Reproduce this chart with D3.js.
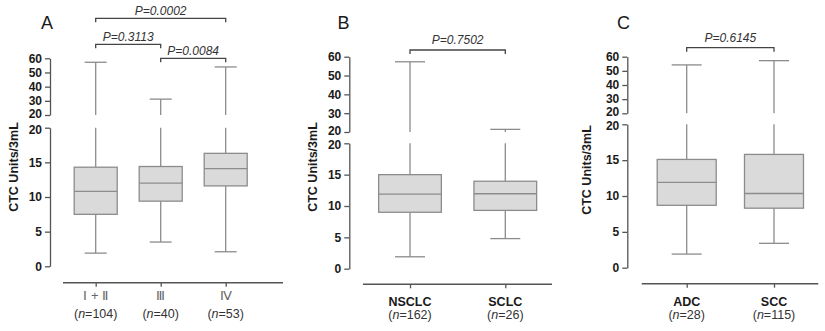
<!DOCTYPE html>
<html>
<head>
<meta charset="utf-8">
<script src="https://cdn.jsdelivr.net/npm/d3@7"></script>
<style>
  html, body { margin: 0; padding: 0; background: #fff; }
  svg { display: block; }
  text { font-family: Arial, "Liberation Sans", sans-serif; }
</style>
</head>
<body>
<svg id="chart" width="825" height="331"></svg>
<script>
// ---------------- DATA ----------------
const panelLabels = ["A", "B", "C"];

const catsA = ["Ⅰ + Ⅱ", "Ⅲ", "Ⅳ"];
const nA    = ["104", "40", "53"];
const minA  = [1.9, 3.5, 2.1];
const q1A   = [7.5, 9.4, 11.6];
const medA  = [10.8, 12.0, 14.1];
const q3A   = [14.3, 14.4, 16.3];
const maxA  = [57.2, 31.2, 53.9];

const catsB = ["NSCLC", "SCLC"];
const nB    = ["162", "26"];
const minB  = [1.9, 4.8];
const q1B   = [9.0, 9.3];
const medB  = [11.9, 11.95];
const q3B   = [15.0, 13.95];
const maxB  = [57.3, 21.4];

const catsC = ["ADC", "SCC"];
const nC    = ["28", "115"];
const minC  = [1.9, 3.4];
const q1C   = [8.7, 8.3];
const medC  = [11.9, 10.35];
const q3C   = [15.1, 15.8];
const maxC  = [54.2, 57.2];

const lowTicks  = [0, 5, 10, 15, 20];
const highTicks = [20, 30, 40, 50, 60];

const pairsA = [[0, 2], [0, 1], [1, 2]];
const pvalsA = ["P=0.0002", "P=0.3113", "P=0.0084"];
const pairsB = [[0, 1]];
const pvalsB = ["P=0.7502"];
const pairsC = [[0, 1]];
const pvalsC = ["P=0.6145"];

const yTitle = "CTC Units/3mL";

// ---------------- LAYOUT ----------------
const panels = [
  { label: panelLabels[0], cats: catsA, n: nA, min: minA, q1: q1A, med: medA, q3: q3A, max: maxA,
    pairs: pairsA, pvals: pvalsA, roman: true,
    axisX: 50, y60: 58.3, y20u: 115, y20l: 127.7, y0: 266.3,
    xAxisY: 282.7, xLine: [63, 283], catRange: [95.7, 225.7], boxW: 43, capW: 22,
    titleX: 14, titleY: 167, labX: 47, labY: 29,
    brY: [18.3, 44.3, 58.3], pGap: 3.5, labY1: 301, labY2: 318 },
  { label: panelLabels[1], cats: catsB, n: nB, min: minB, q1: q1B, med: medB, q3: q3B, max: maxB,
    pairs: pairsB, pvals: pvalsB, roman: false,
    axisX: 349.3, y60: 56.7, y20u: 132, y20l: 143.3, y0: 268.7,
    xAxisY: 284.3, xLine: [363, 552], catRange: [410, 505.3], boxW: 62.7, capW: 30,
    titleX: 313, titleY: 167, labX: 343.5, labY: 29,
    brY: [50], pGap: 6, labY1: 306, labY2: 319 },
  { label: panelLabels[2], cats: catsC, n: nC, min: minC, q1: q1C, med: medC, q3: q3C, max: maxC,
    pairs: pairsC, pvals: pvalsC, roman: false,
    axisX: 627.3, y60: 56.7, y20u: 113.3, y20l: 124.3, y0: 267.7,
    xAxisY: 283.7, xLine: [641.7, 818.3], catRange: [686.7, 774], boxW: 59, capW: 30,
    titleX: 587, titleY: 170, labX: 623.5, labY: 29,
    brY: [47.7], pGap: 5.5, labY1: 306, labY2: 319 }
];

const axisColor = "#555";
const boxStroke = "#8c8c8c";
const boxFill = "#dadada";
const textColor = "#1a1a1a";

const svg = d3.select("#chart");

panels.forEach(p => {
  const g = svg.append("g");
  const yLow = d3.scaleLinear().domain([0, 20]).range([p.y0, p.y20l]);
  const yHigh = d3.scaleLinear().domain([20, 60]).range([p.y20u, p.y60]);
  const x = d3.scalePoint().domain(p.cats).range(p.catRange);

  // y axes (two segments); the two "20" labels are nudged apart slightly
  [[yLow, lowTicks, 1.6], [yHigh, highTicks, -1.6]].forEach(([sc, tv, nudge]) => {
    const ax = g.append("g")
      .attr("transform", `translate(${p.axisX},0)`)
      .call(d3.axisLeft(sc).tickValues(tv).tickSize(5).tickSizeOuter(0).tickPadding(3));
    ax.selectAll("path, line").attr("stroke", axisColor).attr("stroke-width", 1.3);
    ax.selectAll("text")
      .attr("font-size", "12px").attr("font-weight", "bold")
      .attr("fill", textColor)
      .attr("font-family", "Arial, 'Liberation Sans', sans-serif");
    ax.selectAll(".tick").filter(d => d === 20).select("text")
      .attr("y", nudge);
  });

  // y title
  g.append("text")
    .attr("transform", `translate(${p.titleX},${p.titleY}) rotate(-90)`)
    .attr("text-anchor", "middle").attr("dy", "0.35em")
    .attr("font-size", "12.5px").attr("font-weight", "bold").attr("fill", textColor)
    .text(yTitle);

  // panel label
  g.append("text")
    .attr("x", p.labX).attr("y", p.labY)
    .attr("text-anchor", "middle")
    .attr("font-size", "18px").attr("fill", textColor)
    .text(p.label);

  // x axis
  g.append("line")
    .attr("x1", p.xLine[0]).attr("x2", p.xLine[1])
    .attr("y1", p.xAxisY).attr("y2", p.xAxisY)
    .attr("stroke", axisColor).attr("stroke-width", 1.5);
  const xa = g.append("g")
    .attr("transform", `translate(0,${p.xAxisY})`)
    .call(d3.axisBottom(x).tickSize(4).tickFormat(""));
  xa.select(".domain").remove();
  xa.selectAll("line").attr("stroke", axisColor).attr("stroke-width", 1.3);

  // category labels
  p.cats.forEach((c, i) => {
    const cx = x(c);
    if (p.roman) {
      g.append("text")
        .attr("x", cx).attr("y", p.labY1 - 1)
        .attr("text-anchor", "middle")
        .attr("font-size", "13px")
        .style("fill", "#666666")
        .attr("font-family", "'Noto Sans CJK SC', 'DejaVu Serif', serif")
        .text(c);
    } else {
      g.append("text")
        .attr("x", cx).attr("y", p.labY1)
        .attr("text-anchor", "middle")
        .attr("font-size", "12.5px").attr("font-weight", "bold").attr("fill", textColor)
        .text(c);
    }
    const t = g.append("text")
      .attr("x", cx).attr("y", p.labY2)
      .attr("text-anchor", "middle")
      .attr("font-size", "12.5px").attr("fill", "#333");
    t.append("tspan").text("(");
    t.append("tspan").attr("font-style", "italic").text("n");
    t.append("tspan").text("=" + p.n[i] + ")");
  });

  // boxes
  p.cats.forEach((c, i) => {
    const cx = x(c);
    const yv = v => v <= 20 ? yLow(v) : yHigh(v);
    const stroke = s => s.attr("stroke", boxStroke).attr("stroke-width", 1.3);
    // upper whisker
    if (p.max[i] > 20) {
      stroke(g.append("line").attr("x1", cx).attr("x2", cx)
        .attr("y1", yHigh(p.max[i])).attr("y2", yHigh(20)));
      stroke(g.append("line").attr("x1", cx).attr("x2", cx)
        .attr("y1", yLow(20)).attr("y2", yLow(p.q3[i])));
    } else {
      stroke(g.append("line").attr("x1", cx).attr("x2", cx)
        .attr("y1", yLow(p.max[i])).attr("y2", yLow(p.q3[i])));
    }
    // lower whisker
    stroke(g.append("line").attr("x1", cx).attr("x2", cx)
      .attr("y1", yLow(p.q1[i])).attr("y2", yLow(p.min[i])));
    // caps
    [p.max[i], p.min[i]].forEach(v => {
      stroke(g.append("line").attr("x1", cx - p.capW / 2).attr("x2", cx + p.capW / 2)
        .attr("y1", yv(v)).attr("y2", yv(v)));
    });
    // box
    stroke(g.append("rect")
      .attr("x", cx - p.boxW / 2).attr("width", p.boxW)
      .attr("y", yLow(p.q3[i])).attr("height", yLow(p.q1[i]) - yLow(p.q3[i]))
      .attr("fill", boxFill));
    stroke(g.append("line").attr("x1", cx - p.boxW / 2).attr("x2", cx + p.boxW / 2)
      .attr("y1", yLow(p.med[i])).attr("y2", yLow(p.med[i])));
  });

  // significance brackets
  p.pairs.forEach((pr, k) => {
    const x1 = x(p.cats[pr[0]]), x2 = x(p.cats[pr[1]]);
    const by = p.brY[k];
    g.append("path")
      .attr("d", `M${x1},${by + 4}V${by}H${x2}V${by + 4}`)
      .attr("fill", "none").attr("stroke", "#444").attr("stroke-width", 1.3);
    g.append("text")
      .attr("x", (x1 + x2) / 2).attr("y", by - p.pGap)
      .attr("text-anchor", "middle")
      .attr("font-size", "12px").attr("font-style", "italic").attr("fill", "#333")
      .text(p.pvals[k]);
  });
});
</script>
</body>
</html>
